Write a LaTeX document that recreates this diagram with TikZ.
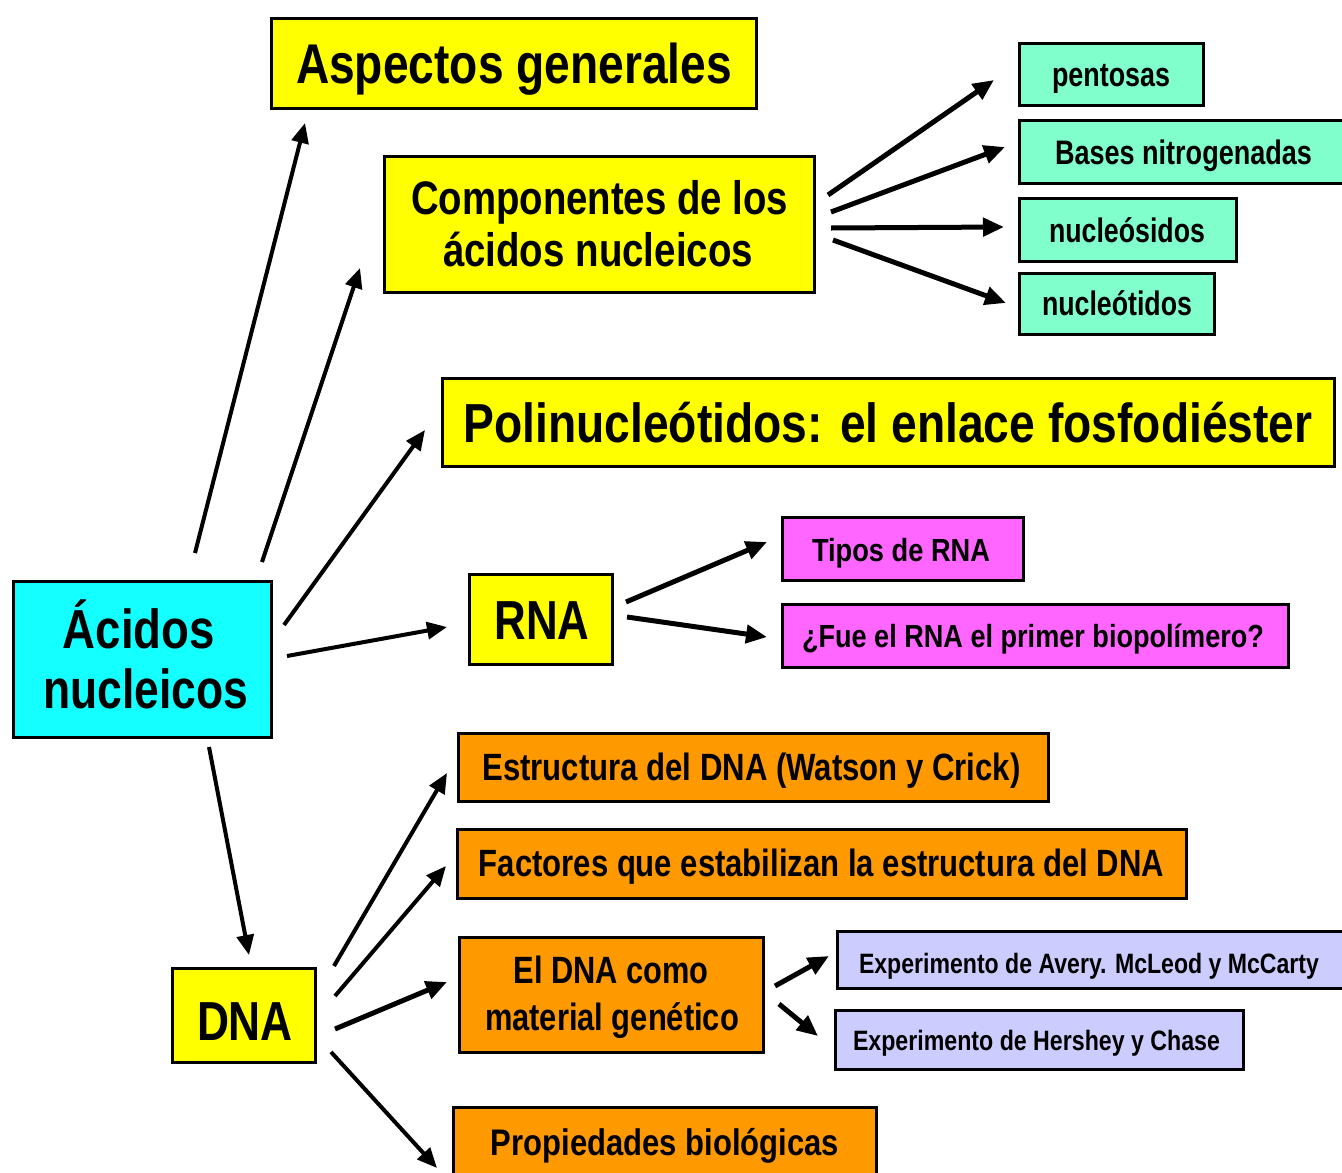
\documentclass[tikz,border=0pt]{standalone}
\usepackage{fontspec}
\setmainfont{Liberation Sans}
\usepackage{graphicx}
\usetikzlibrary{arrows.meta,calc}
\definecolor{cYellow}{RGB}{255,255,0}
\definecolor{cCyan}{RGB}{20,255,255}
\definecolor{cMint}{RGB}{128,255,204}
\definecolor{cPink}{RGB}{255,102,255}
\definecolor{cOrange}{RGB}{255,153,0}
\definecolor{cLav}{RGB}{204,204,255}
\newcommand\fw[3]{\resizebox{#1pt}{\height}{\fontsize{#2}{#2}\selectfont\bfseries #3}}
\begin{document}
\begin{tikzpicture}[x=1pt,y=-1pt,
  box/.style={draw=black, line width=3pt, rectangle, inner sep=0pt},
  txt/.style={anchor=base, inner sep=0pt, text=black},
  arr/.style={line width=4pt, -{Triangle[length=20pt,width=17pt]}},
  arrb/.style={line width=5pt, -{Triangle[length=21pt,width=18pt]}}]
\useasboundingbox (0,0) rectangle (1342,1173);
\fill[white] (0,0) rectangle (1342,1173);
\clip (0,0) rectangle (1342,1173);

% boxes
\node[box, fill=cYellow, minimum width=485pt, minimum height=90pt] (aspectos) at (513.5,63) {};
\node[box, fill=cYellow, minimum width=430pt, minimum height=136pt] (comp) at (599,224) {};
\node[box, fill=cMint, minimum width=184pt, minimum height=62pt] (pent) at (1111,74) {};
\node[box, fill=cMint, minimum width=342pt, minimum height=63pt] (bases) at (1190,151.5) {};
\node[box, fill=cMint, minimum width=217pt, minimum height=63pt] (nucs) at (1127.5,229.5) {};
\node[box, fill=cMint, minimum width=195pt, minimum height=61pt] (nuct) at (1116.5,303.5) {};
\node[box, fill=cYellow, minimum width=892pt, minimum height=88pt] (poli) at (888,422) {};
\node[box, fill=cYellow, minimum width=143pt, minimum height=90pt] (rna) at (540.5,619) {};
\node[box, fill=cPink, minimum width=241pt, minimum height=63pt] (tipos) at (902.5,549) {};
\node[box, fill=cPink, minimum width=506pt, minimum height=63pt] (fue) at (1035,635.5) {};
\node[box, fill=cCyan, minimum width=258pt, minimum height=156pt] (acidos) at (142,659) {};
\node[box, fill=cYellow, minimum width=143pt, minimum height=94pt] (dna) at (243.5,1015) {};
\node[box, fill=cOrange, minimum width=590pt, minimum height=68pt] (estr) at (753,767) {};
\node[box, fill=cOrange, minimum width=729pt, minimum height=69pt] (fact) at (821.5,863.5) {};
\node[box, fill=cOrange, minimum width=304pt, minimum height=115pt] (eldna) at (611,994.5) {};
\node[box, fill=cLav, minimum width=524pt, minimum height=57pt] (avery) at (1099,959.5) {};
\node[box, fill=cLav, minimum width=408pt, minimum height=59pt] (hersh) at (1039,1039.5) {};
\node[box, fill=cOrange, minimum width=423pt, minimum height=82pt] (prop) at (664.5,1148) {};

% texts
\node[txt] (t-aspectos) at (514,83) {\fw{436}{56}{Aspectos generales}};
\node[txt] (t-comp1) at (599.5,214) {\fw{377}{47}{Componentes de los}};
\node[txt] (t-comp2) at (598,266) {\fw{310}{47}{ácidos nucleicos}};
\node[txt] (t-pent) at (1111,86) {\fw{118}{34}{pentosas}};
\node[txt] (t-bases) at (1183.5,164) {\fw{257}{34}{Bases nitrogenadas}};
\node[txt] (t-nucs) at (1127,242) {\fw{156}{34}{nucleósidos}};
\node[txt] (t-nuct) at (1117,315) {\fw{150}{34}{nucleótidos}};
\node[txt] (t-poli) at (888,442) {\fw{849}{55}{Polinucleótidos: el enlace fosfodiéster}};
\node[txt] (t-rna) at (542,639) {\fw{95}{55}{RNA}};
\node[txt] (t-tipos) at (901,561) {\fw{178}{32}{Tipos de RNA}};
\node[txt] (t-fue) at (1033,647) {\fw{462}{32}{¿Fue el RNA el primer biopolímero?}};
\node[txt] (t-acidos1) at (139,648) {\fw{152}{55}{Ácidos}};
\node[txt] (t-acidos2) at (145.5,708) {\fw{205}{55}{nucleicos}};
\node[txt] (t-dna) at (245,1040) {\fw{96}{55}{DNA}};
\node[txt] (t-estr) at (751.5,780) {\fw{538}{38}{Estructura del DNA (Watson y Crick)}};
\node[txt] (t-fact) at (821.5,876) {\fw{685}{38}{Factores que estabilizan la estructura del DNA}};
\node[txt] (t-eldna1) at (611,983) {\fw{195}{38}{El DNA como}};
\node[txt] (t-eldna2) at (612,1030) {\fw{254}{38}{material genético}};
\node[txt] (t-avery) at (1089,973) {\fw{460}{28}{Experimento de Avery. McLeod y McCarty}};
\node[txt] (t-hersh) at (1036.5,1050) {\fw{367}{28}{Experimento de Hershey y Chase}};
\node[txt] (t-prop) at (665,1155) {\fw{348}{37}{Propiedades biológicas}};

% connectors
\draw[arr] ($(acidos.center)+(53,-106)$) -- ($(aspectos.center)+(-208.5,60)$);
\draw[arr] ($(acidos.center)+(120,-97)$) -- ($(comp.center)+(-239,44)$);
\draw[arr] ($(acidos.center)+(142,-34)$) -- ($(poli.center)+(-463,8)$);
\draw[arr] ($(acidos.center)+(145,-3)$) -- ($(rna.center)+(-93.5,8)$);
\draw[arr] ($(acidos.center)+(67,88)$) -- ($(dna.center)+(5.5,-60)$);

\draw[arrb] ($(comp.center)+(229,-29)$) -- ($(pent.center)+(-117,6)$);
\draw[arrb] ($(comp.center)+(232,-12)$) -- ($(bases.center)+(-185,-4.5)$);
\draw[arrb] ($(comp.center)+(232,4)$) -- ($(nucs.center)+(-123.5,-2.5)$);
\draw[arrb] ($(comp.center)+(234,16)$) -- ($(nuct.center)+(-110.5,-0.5)$);

\draw[arrb] ($(rna.center)+(85.5,-17)$) -- ($(tipos.center)+(-135.5,-7)$);
\draw[arrb] ($(rna.center)+(86.5,-2)$) -- ($(fue.center)+(-268,1.5)$);

\draw[arr] ($(dna.center)+(90.5,-49)$) -- ($(estr.center)+(-306,6)$);
\draw[arr] ($(dna.center)+(91.5,-19)$) -- ($(fact.center)+(-375.5,2.5)$);
\draw[arrb] ($(dna.center)+(91.5,14)$) -- ($(eldna.center)+(-164,-12.5)$);
\draw[arr] ($(dna.center)+(87.5,37)$) -- ($(prop.center)+(-227.5,20)$);

\draw[arrb] ($(eldna.center)+(164,-8.5)$) -- ($(avery.center)+(-270,-3.5)$);
\draw[arrb] ($(eldna.center)+(168,9.5)$) -- ($(hersh.center)+(-221,-3.5)$);
\end{tikzpicture}
\end{document}
